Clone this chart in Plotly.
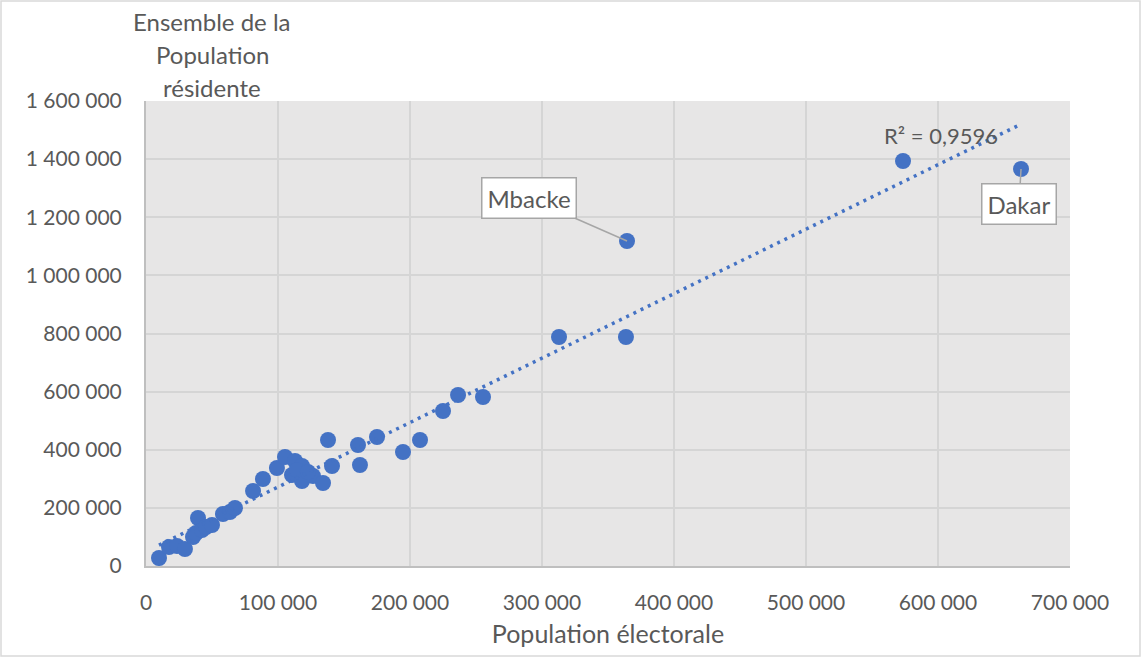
import numpy as np
import plotly.graph_objects as go

# Population électorale (x) vs ensemble de la population résidente (y), par département
pop_electorale = [
    9850, 17400, 23500, 29500, 35600, 37900, 39400, 42400, 45500, 50000,
    58300, 63600, 67400, 81100, 88600, 99200, 105300, 112900, 118200, 110600,
    118200, 126500, 134100, 137900, 140900, 114400, 122700, 160600, 162100, 175000,
    194700, 207600, 225000, 236400, 255300, 312900, 363600, 364400, 573500, 662900,
]
pop_residente = [
    27500, 65400, 68800, 58500, 99800, 113600, 165200, 123900, 134200, 141100,
    178900, 185800, 199600, 258100, 299400, 337200, 375100, 361300, 344100, 313100,
    292500, 309700, 285600, 433600, 344100, 330300, 323400, 416400, 347500, 443900,
    392300, 433600, 533400, 588400, 581500, 788000, 788000, 1118300, 1393600, 1366100,
]
r2_label = "R² = 0,9596"
labelled = {"Mbacke": (364400, 1118300, -98, -43), "Dakar": (662900, 1366100, -2, 35)}

x = np.array(pop_electorale, dtype=float)
y = np.array(pop_residente, dtype=float)
slope, intercept = np.polyfit(x, y, 1)
trend_x = np.array([x.min(), x.max()])
trend_y = slope * trend_x + intercept

BLUE = "#4472C4"
GREY_TXT = "#595959"
FONT = "Lato"

fig = go.Figure()
fig.add_trace(go.Scatter(
    x=x, y=y, mode="markers",
    marker=dict(size=16, color=BLUE, line=dict(width=0)),
    hoverinfo="x+y", showlegend=False,
))
fig.add_trace(go.Scatter(
    x=trend_x, y=trend_y, mode="lines",
    line=dict(color=BLUE, width=3.5, dash="3px,5px"),
    hoverinfo="skip", showlegend=False,
))

annotations = []
for name, (px, py, ax, ay) in labelled.items():
    annotations.append(dict(
        x=px, y=py, xref="x", yref="y", text=name,
        showarrow=True, arrowhead=0, arrowwidth=1.5, arrowcolor="#A6A6A6",
        ax=ax, ay=ay, bgcolor="white", bordercolor="#A6A6A6", borderwidth=1.5,
        borderpad=5, font=dict(family=FONT, size=24, color=GREY_TXT),
    ))

annotations.append(dict(
    x=(941 - 146) / 924, y=(566 - 135) / 465, xref="paper", yref="paper",
    xanchor="center", yanchor="middle",
    text=r2_label, showarrow=False, font=dict(family=FONT, size=22, color=GREY_TXT),
))

# y axis title, three lines stacked above the axis
for i, line in enumerate(["Ensemble de la", "Population", "résidente"]):
    annotations.append(dict(
        x=(212 - 146) / 924, y=(566 - (22 + 32.5 * i)) / 465,
        xref="paper", yref="paper", xanchor="center", yanchor="middle",
        text=line, showarrow=False,
        font=dict(family=FONT, size=24, color=GREY_TXT),
    ))

fig.update_layout(
    width=1141, height=657,
    margin=dict(l=146, r=71, t=101, b=91),
    paper_bgcolor="white", plot_bgcolor="#E7E6E6",
    separators=", ",
    font=dict(family=FONT, size=21, color=GREY_TXT),
    annotations=annotations,
    shapes=[dict(
        type="rect", xref="paper", yref="paper",
        x0=-145 / 924, x1=994 / 924, y0=(566 - 656) / 465, y1=565 / 465,
        line=dict(color="#D9D9D9", width=1.5), layer="below",
    )],
)
fig.update_xaxes(
    range=[0, 700000], dtick=100000, tickformat=",.0f",
    showgrid=True, gridcolor="#D5D5D5", gridwidth=2, zeroline=False,
    showline=True, linecolor="#BFBFBF", linewidth=2,
    ticks="", ticklabelstandoff=17,
    tickfont=dict(family=FONT, size=21, color=GREY_TXT),
    title=dict(text="Population électorale", standoff=12,
               font=dict(family=FONT, size=25, color=GREY_TXT)),
)
fig.update_yaxes(
    range=[0, 1600000], dtick=200000, tickformat=",.0f",
    showgrid=True, gridcolor="#D5D5D5", gridwidth=2, zeroline=False,
    showline=True, linecolor="#BFBFBF", linewidth=2,
    ticks="", ticklabelstandoff=18,
    tickfont=dict(family=FONT, size=21, color=GREY_TXT),
)

fig.write_html("out.html")
